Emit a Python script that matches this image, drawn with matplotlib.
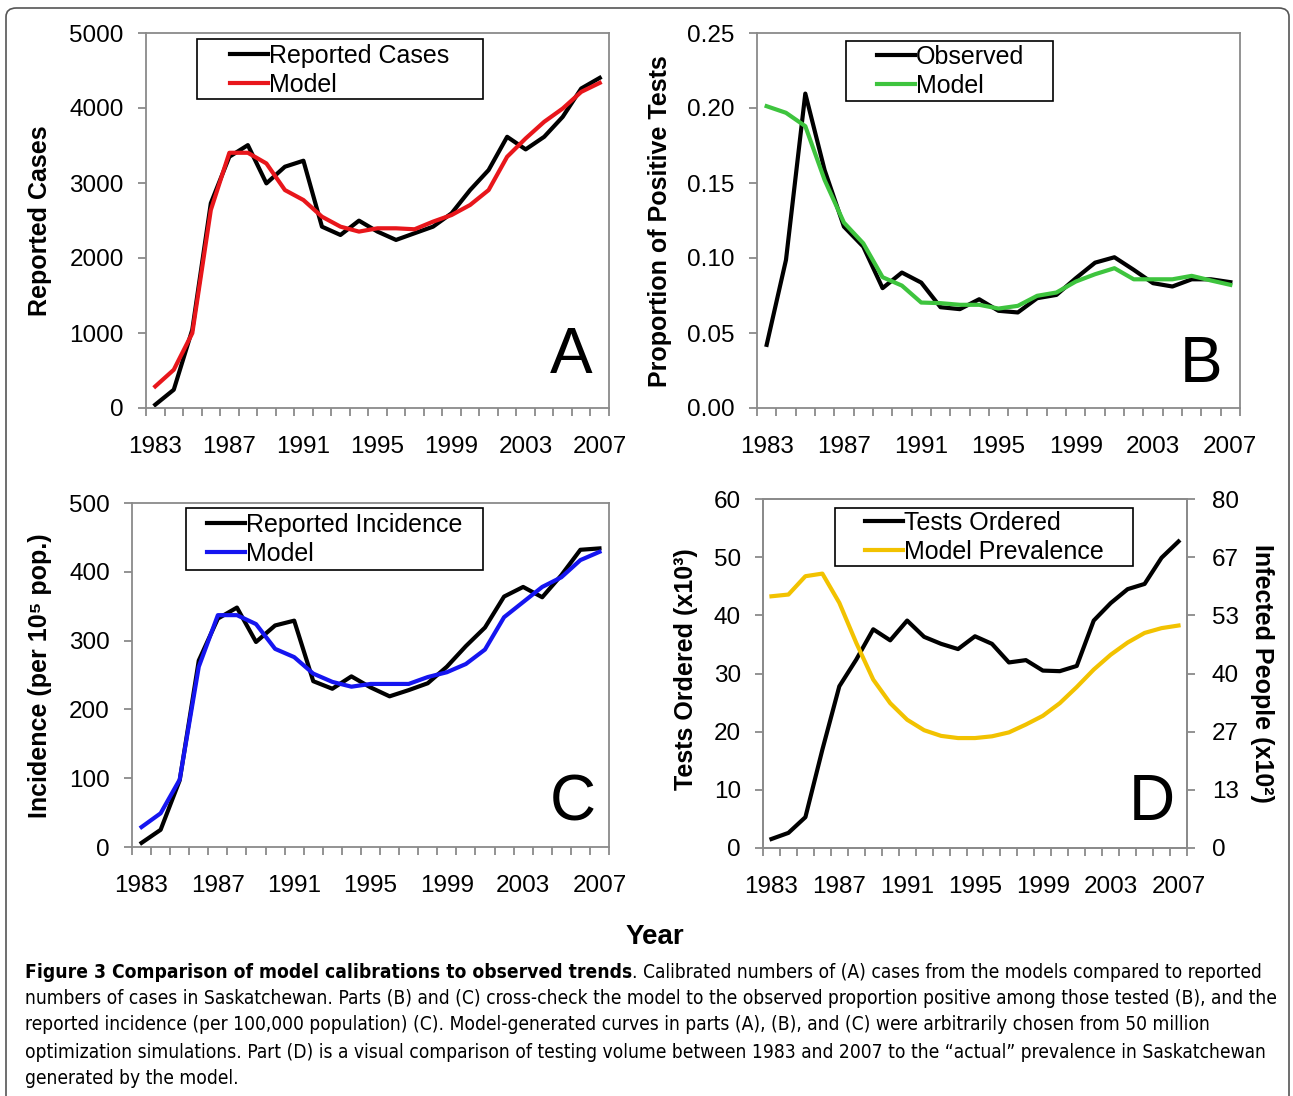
import numpy as np
import matplotlib
matplotlib.use("Agg")
import matplotlib.pyplot as plt
from matplotlib.patches import Rectangle, FancyBboxPatch

plt.rcParams['font.family'] = ['Liberation Sans', 'DejaVu Sans']

years = np.arange(1983, 2008)
year_labels = ['1983', '1987', '1991', '1995', '1999', '2003', '2007']

# (A) reported cases vs model
cases_reported = [44, 244, 1045, 2730, 3350, 3505, 2995, 3217, 3297, 2418, 2307, 2498, 2352,
                  2241, 2330, 2418, 2596, 2906, 3173, 3616, 3448, 3616, 3882, 4260, 4402]
cases_model = [288, 510, 998, 2640, 3403, 3403, 3261, 2906, 2773, 2551, 2418, 2352, 2396,
               2396, 2383, 2485, 2573, 2707, 2906, 3350, 3594, 3816, 3993, 4215, 4335]

# (B) proportion of positive tests
prop_observed = [0.0421, 0.0987, 0.2096, 0.1586, 0.1209, 0.1076, 0.0799, 0.0903, 0.0836, 0.0672,
                 0.0659, 0.0725, 0.0648, 0.0637, 0.0732, 0.0754, 0.0865, 0.0969, 0.1005, 0.0921,
                 0.0832, 0.0810, 0.0858, 0.0858, 0.0839]
prop_model = [0.2012, 0.1968, 0.1879, 0.1520, 0.1236, 0.1098, 0.0872, 0.0816, 0.0703, 0.0699,
              0.0688, 0.0688, 0.0663, 0.0681, 0.0748, 0.0770, 0.0843, 0.0892, 0.0932, 0.0858,
              0.0858, 0.0858, 0.0881, 0.0850, 0.0821]

# (C) incidence per 10^5
inc_reported = [6, 25, 97, 271, 332, 348, 298, 322, 329, 241, 230, 248, 232, 219, 228, 238,
                262, 292, 319, 364, 378, 363, 395, 432, 434]
inc_model = [29, 49, 98, 262, 337, 337, 324, 288, 276, 252, 240, 233, 237, 237, 237, 247,
             254, 266, 287, 334, 356, 378, 392, 417, 429]

# (D) tests ordered (x10^3) and model prevalence (x10^2)
tests_ordered = [1.55, 2.6, 5.3, 16.9, 27.8, 32.4, 37.6, 35.7, 39.1, 36.3, 35.1, 34.2, 36.4,
                 35.1, 31.9, 32.3, 30.5, 30.4, 31.3, 39.1, 42.1, 44.5, 45.4, 49.9, 52.7]
prevalence = [57.7, 58.1, 62.3, 62.9, 56.2, 47.0, 38.6, 33.2, 29.4, 27.0, 25.7, 25.2, 25.2,
              25.6, 26.5, 28.3, 30.3, 33.2, 36.9, 40.9, 44.3, 47.1, 49.3, 50.4, 51.0]
prev_tick_labels = ['0', '13', '27', '40', '53', '67', '80']

W, H = 1293, 1096
fig = plt.figure(figsize=(W / 100, H / 100), dpi=100)
GRAY = '#8a8a8a'
TS = 17.5
LS = 18


def fx(px):
    return px / W


def fy(py):
    return 1 - py / H


def add_ax(l, t, r, b):
    return fig.add_axes([fx(l), fy(b), (r - l) / W, (b - t) / H])


def style(ax):
    for s in ax.spines.values():
        s.set_color(GRAY)
        s.set_linewidth(1.3)
    ax.set_xlim(1982.5, 2007.5)
    ax.set_xticks(years[::4])
    ax.set_xticklabels(year_labels)
    ax.set_xticks(np.arange(1982.5, 2008, 1), minor=True)
    ax.tick_params(axis='x', which='major', length=0, pad=20, labelsize=TS)
    ax.tick_params(axis='x', which='minor', length=6, width=1.3, color=GRAY, direction='out')
    ax.tick_params(axis='y', length=6, width=1.3, color=GRAY, direction='out', pad=10, labelsize=TS)


def legend_box(ax, handles, labels, box, hx, row1):
    x0, y0, x1, y1 = box
    fig.add_artist(Rectangle((fx(x0), fy(y1)), (x1 - x0) / W, (y1 - y0) / H,
                             transform=fig.transFigure, fill=False, ec='black', lw=1.2))
    ax.legend(handles, labels, loc='upper left', bbox_to_anchor=(fx(hx), fy(row1 - 14)),
              bbox_transform=fig.transFigure, frameon=False, fontsize=LS, borderpad=0,
              borderaxespad=0, handlelength=1.5, handletextpad=0.05, labelspacing=0.2)


def panel_letter(ax, s, x, y):
    ax.text(x, y, s, transform=ax.transAxes, fontsize=46, ha='center', va='baseline')


# panel A
axA = add_ax(146, 33, 609, 408)
style(axA)
la, = axA.plot(years, cases_reported, color='black', lw=3)
lb, = axA.plot(years, cases_model, color='#e8161b', lw=3)
axA.set_ylim(0, 5000)
axA.set_yticks(np.arange(0, 5001, 1000))
legend_box(axA, [la, lb], ['Reported Cases', 'Model'], (197, 39, 483, 99), 230, 58)
panel_letter(axA, 'A', 0.918, 0.093)

# panel B
axB = add_ax(757, 33, 1240, 408)
style(axB)
la, = axB.plot(years, prop_observed, color='black', lw=3)
lb, = axB.plot(years, prop_model, color='#3ec43e', lw=3)
axB.set_ylim(0, 0.25)
axB.set_yticks(np.arange(0, 0.251, 0.05))
axB.set_yticklabels(['0.00', '0.05', '0.10', '0.15', '0.20', '0.25'])
legend_box(axB, [la, lb], ['Observed', 'Model'], (846, 41, 1053, 101), 877, 59)
panel_letter(axB, 'B', 0.919, 0.069)

# panel C
axC = add_ax(132, 503, 609, 847)
style(axC)
la, = axC.plot(years, inc_reported, color='black', lw=3)
lb, = axC.plot(years, inc_model, color='#1515f0', lw=3)
axC.set_ylim(0, 500)
axC.set_yticks(np.arange(0, 501, 100))
legend_box(axC, [la, lb], ['Reported Incidence', 'Model'], (186, 508, 483, 570), 207, 527)
panel_letter(axC, 'C', 0.925, 0.078)

# panel D
axD = add_ax(763, 499, 1187, 848)
style(axD)
la, = axD.plot(years, tests_ordered, color='black', lw=3)
axD.set_ylim(0, 60)
axD.set_yticks(np.arange(0, 61, 10))
axD2 = axD.twinx()
lb, = axD2.plot(years, prevalence, color='#f2c200', lw=3)
axD2.set_ylim(0, 80)
axD2.set_yticks(np.linspace(0, 80, 7))
axD2.set_yticklabels(prev_tick_labels)
for s in axD2.spines.values():
    s.set_color(GRAY)
    s.set_linewidth(1.3)
axD2.tick_params(axis='y', length=6, width=1.3, color=GRAY, direction='out', pad=12, labelsize=TS)
legend_box(axD2, [la, lb], ['Tests Ordered', 'Model Prevalence'], (835, 508, 1133, 566), 865, 525)
panel_letter(axD, 'D', 0.917, 0.080)

# axis titles
lab = dict(fontsize=18, fontweight='bold', ha='center', va='center')
fig.text(fx(40), fy(221), 'Reported Cases', rotation=90, **lab)
fig.text(fx(660), fy(221), 'Proportion of Positive Tests', rotation=90, **lab)
fig.text(fx(40), fy(676), 'Incidence (per 10\u2075 pop.)', rotation=90, **lab)
fig.text(fx(686), fy(669), 'Tests Ordered (x10\u00b3)', rotation=90, **lab)
fig.text(fx(1262), fy(673), 'Infected People (x10\u00b2)', rotation=-90, **lab)
fig.text(fx(655), fy(937), 'Year', fontsize=20, fontweight='bold', ha='center', va='center')

# caption, shrunk so that the longest line fits the reference width
cap_font = ['DejaVu Sans', 'Liberation Sans']
cap_size = 14.5
bold_part = 'Figure 3 Comparison of model calibrations to observed trends'
cap_lines = [
    '. Calibrated numbers of (A) cases from the models compared to reported',
    'numbers of cases in Saskatchewan. Parts (B) and (C) cross-check the model to the observed proportion positive among those tested (B), and the',
    'reported incidence (per 100,000 population) (C). Model-generated curves in parts (A), (B), and (C) were arbitrarily chosen from 50 million',
    'optimization simulations. Part (D) is a visual comparison of testing volume between 1983 and 2007 to the \u201cactual\u201d prevalence in Saskatchewan',
    'generated by the model.',
]
line_y = [972, 999, 1025, 1052, 1079]
r = fig.canvas.get_renderer()
probe = fig.text(0, 0, cap_lines[1], family=cap_font, fontsize=cap_size, fontstretch='condensed')
w = probe.get_window_extent(renderer=r).width
probe.remove()
cap_size = cap_size * 1245 / w

t0 = fig.text(fx(25), fy(line_y[0]), bold_part, family=cap_font, fontsize=cap_size,
              fontweight='bold', fontstretch='condensed', va='center', ha='left')
bb = t0.get_window_extent(renderer=r)
fig.text(bb.x1 / W, fy(line_y[0]), cap_lines[0], family=cap_font, fontsize=cap_size,
         fontstretch='condensed', va='center', ha='left')
for txt, yy in zip(cap_lines[1:], line_y[1:]):
    fig.text(fx(25), fy(yy), txt, family=cap_font, fontsize=cap_size, fontstretch='condensed',
             va='center', ha='left')

# outer border
fig.add_artist(FancyBboxPatch((fx(6), fy(1110)), (1283) / W, (1110 - 8) / H,
                              boxstyle='round,pad=0,rounding_size=0.008',
                              transform=fig.transFigure, fill=False, ec='#555555', lw=1.2))

fig.savefig('out.png', dpi=100)
